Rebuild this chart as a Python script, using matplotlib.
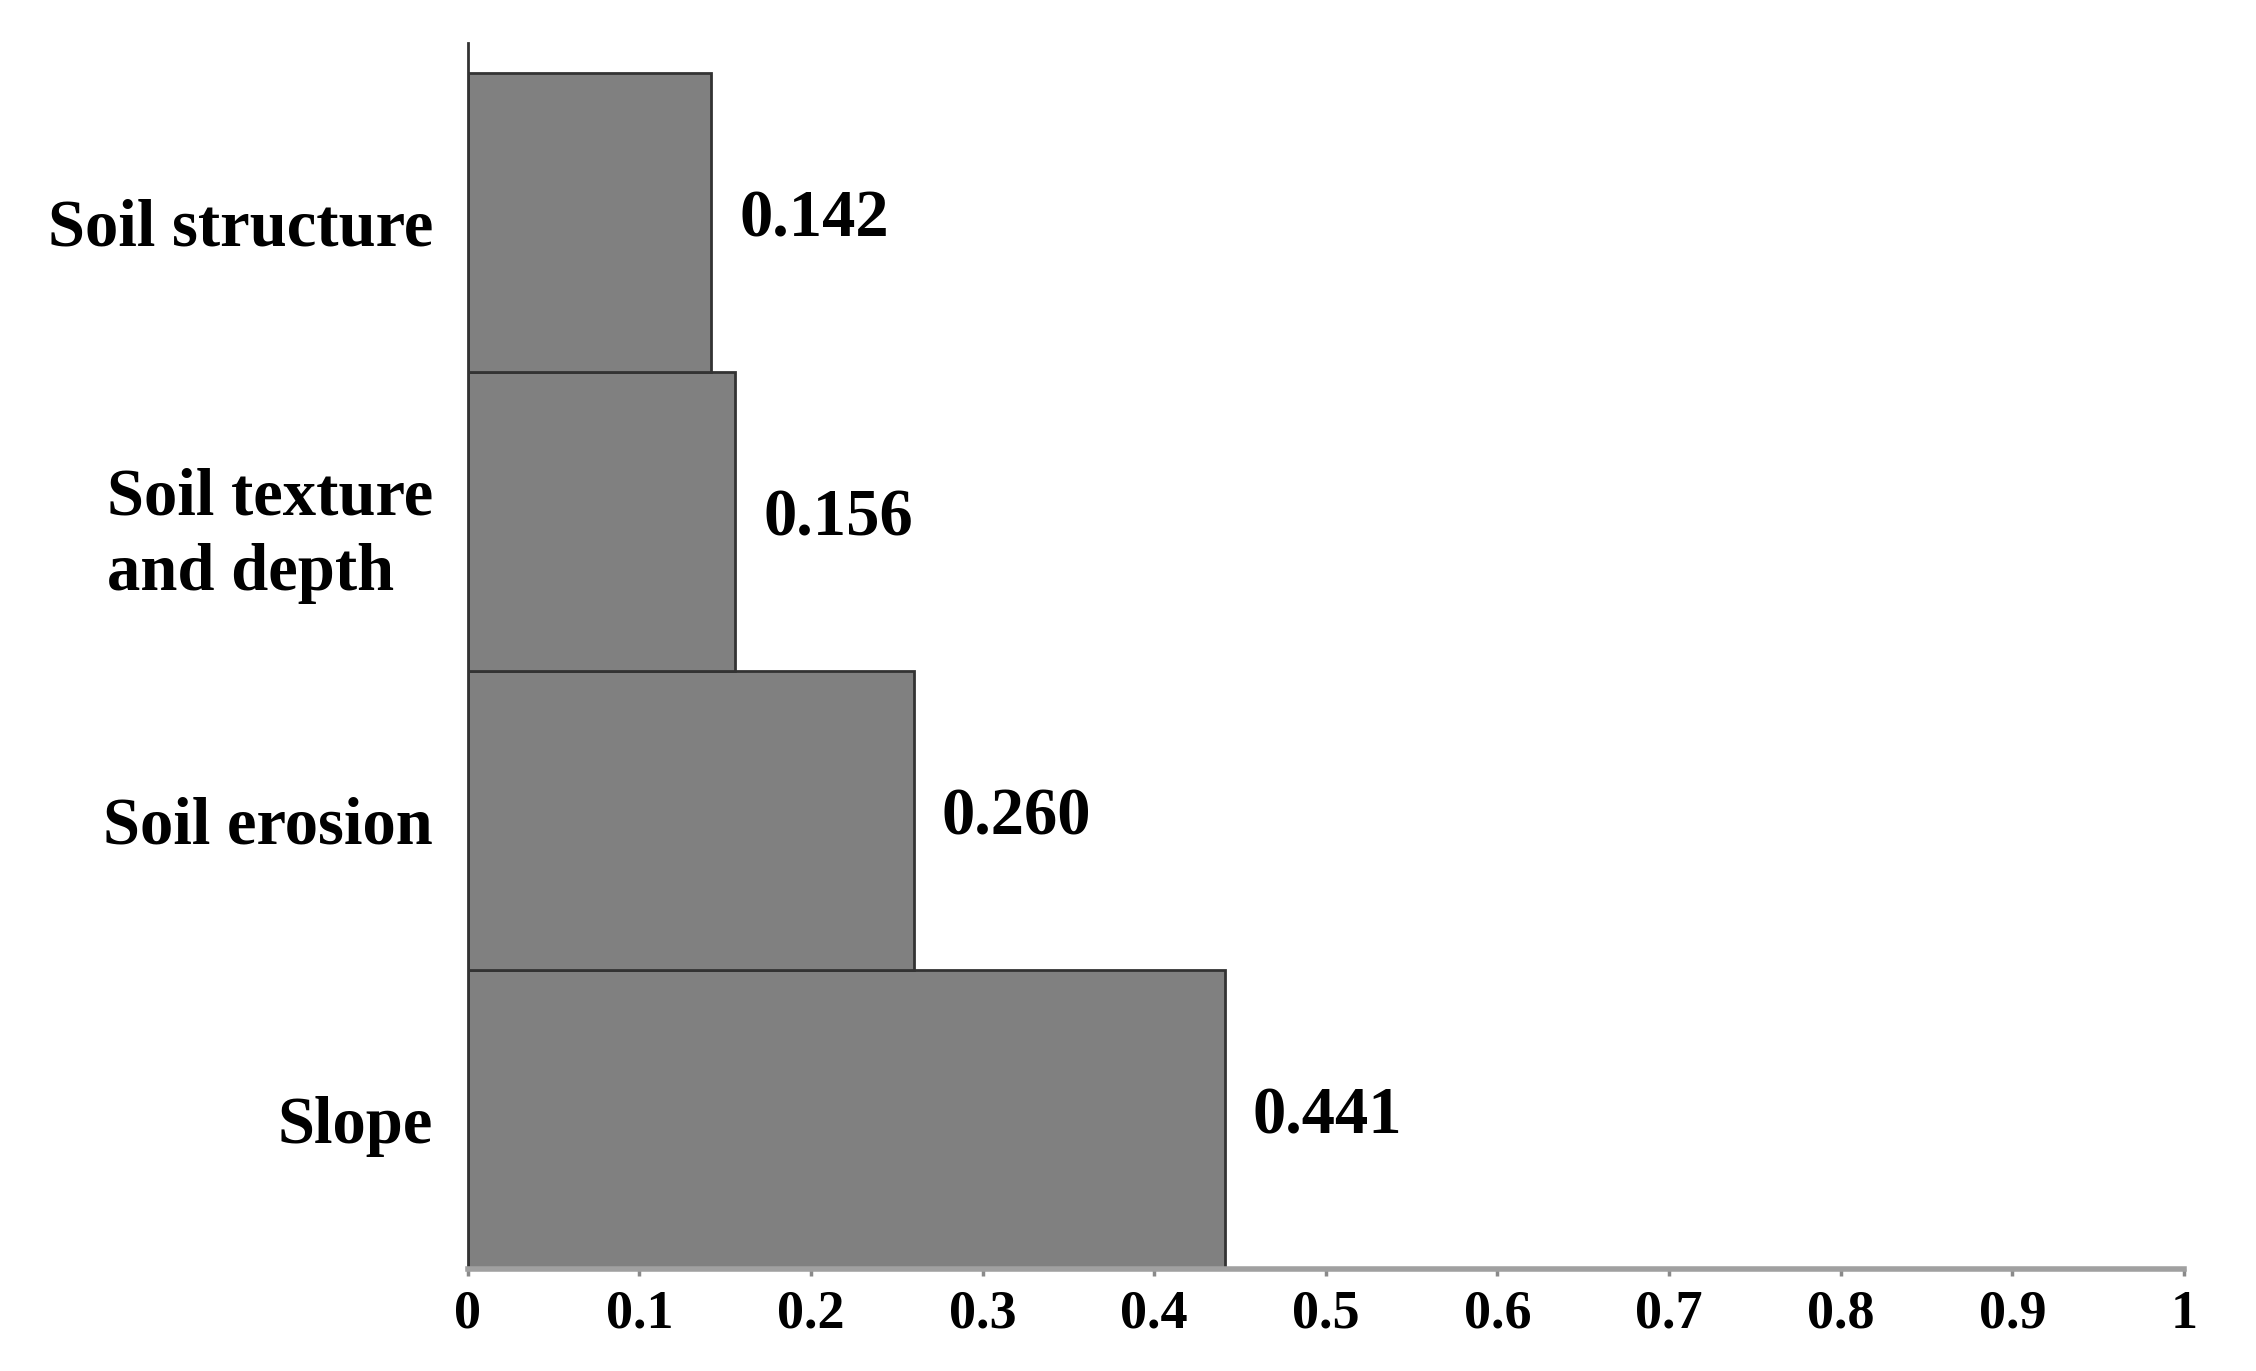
import matplotlib
matplotlib.use("Agg")
import matplotlib.pyplot as plt
import matplotlib.transforms as mtransforms

# Data (bottom to top)
categories = ["Slope", "Soil erosion", "Soil texture\nand depth", "Soil structure"]
weights = [0.441, 0.260, 0.156, 0.142]
value_labels = ["0.441", "0.260", "0.156", "0.142"]
xticks = [0, 0.1, 0.2, 0.3, 0.4, 0.5, 0.6, 0.7, 0.8, 0.9, 1]
xtick_labels = ["0", "0.1", "0.2", "0.3", "0.4", "0.5", "0.6", "0.7", "0.8", "0.9", "1"]

plt.rcParams["font.family"] = ["Liberation Serif", "DejaVu Serif"]
plt.rcParams["font.weight"] = "bold"

fig = plt.figure(figsize=(22.56, 13.71), dpi=100)
ax = fig.add_axes([0.2073, 0.0744, 0.7608, 0.8942])

ypos = list(range(len(categories)))
bars = ax.barh(ypos, weights, height=1.0, color="#808080",
               edgecolor="#333333", linewidth=2.0)

# value labels right of each bar
for b, txt in zip(bars, value_labels):
    ax.annotate(txt, (b.get_width(), b.get_y() + b.get_height() / 2),
                xytext=(20, 2), textcoords="offset points",
                ha="left", va="center", fontsize=48, fontweight="bold")

ax.set_xlim(0, 1)
ax.set_ylim(-0.5, 3.6)

ax.set_yticks(ypos)
ax.set_yticklabels(categories, fontsize=48, fontweight="bold")
shift = mtransforms.ScaledTranslation(0, 8 / 72, fig.dpi_scale_trans)
for lab in ax.get_yticklabels():
    lab.set_multialignment("left")
    lab.set_linespacing(1.3)
    lab.set_transform(lab.get_transform() + shift)
ax.tick_params(axis="y", length=0, pad=25)

ax.set_xticks(xticks)
ax.set_xticklabels(xtick_labels, fontsize=39, fontweight="bold")
ax.tick_params(axis="x", direction="out", length=5, width=2.5,
               color="#8a8a8a", pad=10)

# spines
ax.spines["top"].set_visible(False)
ax.spines["right"].set_visible(False)
ax.spines["left"].set_color("#333333")
ax.spines["left"].set_linewidth(2)
ax.spines["bottom"].set_color("#a0a0a0")
ax.spines["bottom"].set_linewidth(4)

fig.savefig("out.png", dpi=100, facecolor="white")
